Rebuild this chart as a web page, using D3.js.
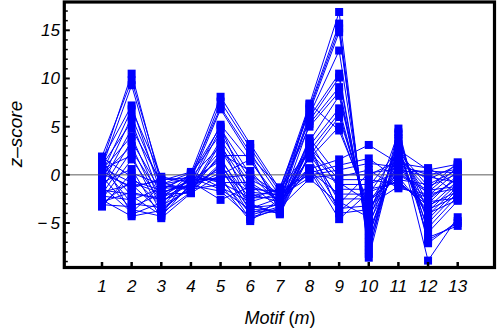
<!DOCTYPE html>
<html>
<head>
<meta charset="utf-8">
<script src="https://cdn.jsdelivr.net/npm/d3@7"></script>
<style>
  body { margin: 0; background: #fff; }
  svg { display: block; }
</style>
</head>
<body>
<svg width="498" height="329"></svg>
<script>
// motif numbers along the x axis
var motifs = [1, 2, 3, 4, 5, 6, 7, 8, 9, 10, 11, 12, 13];
var yTicks = [-5, 0, 5, 10, 15];

// one row per network, z-score for motifs 1..13
var zScores = [
  [1.2, 10.5, -1.0, 0.2, 8.1, 3.2, -1.5, 7.3, 16.9, -8.6, 3.5, -8.9, -4.4],
  [1.9, 9.8, -0.5, -0.3, 7.6, 2.8, -1.8, 7.0, 15.7, -8.2, 4.8, -7.1, -4.8],
  [0.8, 9.3, -1.5, 0.0, 7.0, 2.3, -2.2, 6.8, 15.2, -7.8, 3.0, -6.5, -5.3],
  [1.5, 7.2, -2.0, -0.5, 6.8, 1.9, -1.3, 6.5, 14.8, -7.4, 4.2, -6.0, -2.7],
  [0.2, 6.8, -0.2, -0.8, 5.2, 1.4, -2.6, 6.2, 12.9, -7.0, 2.5, -5.5, -2.2],
  [-0.5, 6.0, -1.2, -1.2, 4.8, 0.0, -3.0, 6.0, 10.5, -6.6, 3.8, -5.0, -1.8],
  [1.0, 5.5, -2.5, 0.1, 4.2, -0.5, -2.0, 5.6, 10.1, -6.2, 2.0, -4.6, -1.5],
  [-1.0, 4.8, -0.8, -1.6, 3.6, -1.0, -3.5, 5.3, 9.1, -5.8, 1.5, -4.2, -1.2],
  [0.5, 4.0, -3.0, -0.2, 3.0, -1.5, -1.7, 5.0, 8.6, -5.4, 3.2, -3.8, -0.9],
  [-1.5, 3.5, -1.8, -1.0, 2.5, -2.0, -2.8, 3.5, 8.2, -5.0, 1.0, -3.4, -0.6],
  [0.0, 3.0, -3.5, -1.4, 2.0, 2.0, -3.8, 3.0, 6.9, -4.6, 2.8, -3.0, 0.0],
  [-2.0, 2.5, -2.2, -0.6, 1.5, -2.5, -1.4, 2.5, 6.4, -4.2, 0.5, -2.6, -0.3],
  [0.6, 2.0, -4.0, -1.8, 1.0, -3.0, -4.1, 2.0, 6.0, -3.8, 2.2, -2.2, 0.4],
  [-2.5, 1.6, -2.8, -0.9, 0.5, -3.5, -2.4, 1.7, 5.0, -3.4, 0.0, -1.8, 0.8],
  [-0.8, 0.6, -4.5, -1.9, 0.0, 1.6, -3.2, 7.4, 4.6, -3.0, 1.8, -1.5, 1.3],
  [-3.3, 0.2, -1.0, -0.4, -0.5, -4.0, -3.0, 0.6, 1.6, 3.1, 1.2, 0.7, -1.0],
  [1.8, -0.2, -3.2, -1.5, -1.0, -4.8, -2.5, 0.2, 1.0, 1.7, -0.5, -1.0, 0.5],
  [-3.0, -0.6, -1.6, 0.0, 5.0, -2.2, -1.6, 0.0, 0.5, 1.2, 0.8, 0.2, -2.0],
  [-1.8, -1.0, -3.8, -1.1, -1.7, -4.4, -3.6, 3.8, -0.2, 0.5, -1.4, -2.0, -1.4],
  [0.4, -1.4, -0.4, -0.7, -2.6, -1.2, -2.2, -0.3, 0.0, 0.0, 1.4, -0.5, 1.0],
  [-2.8, -1.8, -2.6, -1.7, 1.2, -3.8, -3.9, 2.8, -0.5, -0.5, -1.0, -2.8, -2.4],
  [1.4, -2.2, -4.2, 0.2, -1.3, -2.8, -1.9, 2.4, -1.0, -1.0, 0.3, 0.4, 0.2],
  [-2.2, -2.6, -1.4, -1.3, 0.8, -4.2, -3.3, 3.4, -1.5, -1.5, -0.8, -3.2, -1.7],
  [0.9, -3.0, -3.4, -0.1, -0.8, -0.8, -2.7, 0.4, -2.0, -2.0, 2.4, -1.2, 0.1],
  [-3.1, -3.3, -2.0, -1.9, 3.3, -3.2, -4.0, 2.2, -2.5, -2.5, -0.2, -4.0, -2.6],
  [-0.2, -3.6, -4.3, -0.9, -0.2, -4.6, -3.4, -0.4, -3.0, 0.2, 0.6, -0.2, -0.8],
  [-1.2, -3.9, -1.1, -1.6, 2.2, 0.4, -2.9, 1.8, -3.5, -3.2, -1.2, -2.4, -0.4],
  [1.6, -4.1, -2.9, -0.3, -1.5, -3.6, -3.7, 3.2, -4.0, -3.6, 1.0, 0.0, 0.6],
  [-2.6, -4.3, -3.7, -1.2, 0.2, -1.8, -2.1, 0.5, -4.6, -1.8, -0.6, -3.6, -2.2],
  [0.1, -1.2, -0.6, 0.3, -0.8, -2.4, -2.3, 0.6, -0.8, -2.8, 0.1, -1.6, -1.2],
  [-1.6, -2.0, -2.4, -1.0, 1.8, -3.4, -3.1, 2.6, -2.8, -4.4, 4.4, -6.8, -5.0],
  [0.7, -0.8, -1.9, -0.6, -0.3, 0.0, -2.0, 0.7, -3.8, -1.2, 2.6, 0.5, 1.1]
];

var svg = d3.select("svg"),
  frameL = 64.3,
  frameR = 494.5,
  frameT = 2,
  frameB = 267.5;

var xScale = d3.scaleLinear().domain([1, 13]).range([102, 457.7]),
  yScale = d3.scaleLinear().domain([-5, 15]).range([223, 30.3]);

var font = "'Liberation Sans', Arial, sans-serif";

// zero line
svg
  .append("line")
  .attr("x1", frameL)
  .attr("x2", frameR)
  .attr("y1", yScale(0))
  .attr("y2", yScale(0))
  .style("stroke", "#888")
  .style("stroke-width", 1);

var line = d3
  .line()
  .x(function (d, i) {
    return xScale(motifs[i]);
  })
  .y(function (d) {
    return yScale(d);
  });

svg
  .append("g")
  .selectAll("path")
  .data(zScores)
  .enter()
  .append("path")
  .attr("d", line)
  .style("fill", "none")
  .style("stroke", "#0000ff")
  .style("stroke-width", 1);

var size = 8;
zScores.forEach(function (row) {
  svg
    .append("g")
    .selectAll("rect")
    .data(row)
    .enter()
    .append("rect")
    .attr("x", function (d, i) {
      return xScale(motifs[i]) - size / 2;
    })
    .attr("y", function (d) {
      return yScale(d) - size / 2;
    })
    .attr("width", size)
    .attr("height", size)
    .style("fill", "#0000ff");
});

// zero line again on top, faint
svg
  .append("line")
  .attr("x1", frameL)
  .attr("x2", frameR)
  .attr("y1", yScale(0))
  .attr("y2", yScale(0))
  .style("stroke", "#666")
  .style("stroke-opacity", 0.5)
  .style("stroke-width", 1);

// frame
svg
  .append("rect")
  .attr("x", frameL)
  .attr("y", frameT)
  .attr("width", frameR - frameL)
  .attr("height", frameB - frameT)
  .style("fill", "none")
  .style("stroke", "#000")
  .style("stroke-width", 3.2);

// left ticks (major every 5, minor every 1)
var minor = d3.range(-9, 18);
svg
  .append("g")
  .selectAll("line")
  .data(minor)
  .enter()
  .append("line")
  .attr("x1", frameL)
  .attr("x2", function (d) {
    return frameL + (d % 5 === 0 ? 5.5 : 3.5);
  })
  .attr("y1", function (d) {
    return yScale(d);
  })
  .attr("y2", function (d) {
    return yScale(d);
  })
  .style("stroke", "#000")
  .style("stroke-width", function (d) {
    return d % 5 === 0 ? 2 : 1.5;
  });

svg
  .append("g")
  .selectAll("text")
  .data(yTicks)
  .enter()
  .append("text")
  .attr("x", 60)
  .attr("y", function (d) {
    return yScale(d) + 6;
  })
  .attr("text-anchor", "end")
  .style("font-family", font)
  .style("font-style", "italic")
  .style("font-size", "17px")
  .text(function (d) {
    return d < 0 ? "\u2212\u2009" + Math.abs(d) : d;
  });

// bottom ticks
svg
  .append("g")
  .selectAll("line")
  .data(motifs)
  .enter()
  .append("line")
  .attr("x1", function (d) {
    return xScale(d);
  })
  .attr("x2", function (d) {
    return xScale(d);
  })
  .attr("y1", frameB)
  .attr("y2", frameB - 5.5)
  .style("stroke", "#000")
  .style("stroke-width", 2.5);

svg
  .append("g")
  .selectAll("text")
  .data(motifs)
  .enter()
  .append("text")
  .attr("x", function (d) {
    return xScale(d);
  })
  .attr("y", 292)
  .attr("text-anchor", "middle")
  .style("font-family", font)
  .style("font-style", "italic")
  .style("font-size", "17px")
  .text(function (d) {
    return d;
  });

// axis labels
var xl = svg
  .append("text")
  .attr("x", 280)
  .attr("y", 324)
  .attr("text-anchor", "middle")
  .style("font-family", font)
  .style("font-size", "18px");
xl.append("tspan").style("font-style", "italic").text("Motif ");
xl.append("tspan").text("(");
xl.append("tspan").style("font-style", "italic").text("m");
xl.append("tspan").text(")");

svg
  .append("text")
  .attr("text-anchor", "middle")
  .attr("transform", "translate(22,134)rotate(-90)")
  .style("font-family", font)
  .style("font-style", "italic")
  .style("font-size", "19px")
  .text("z\u2013score");
</script>
</body>
</html>
